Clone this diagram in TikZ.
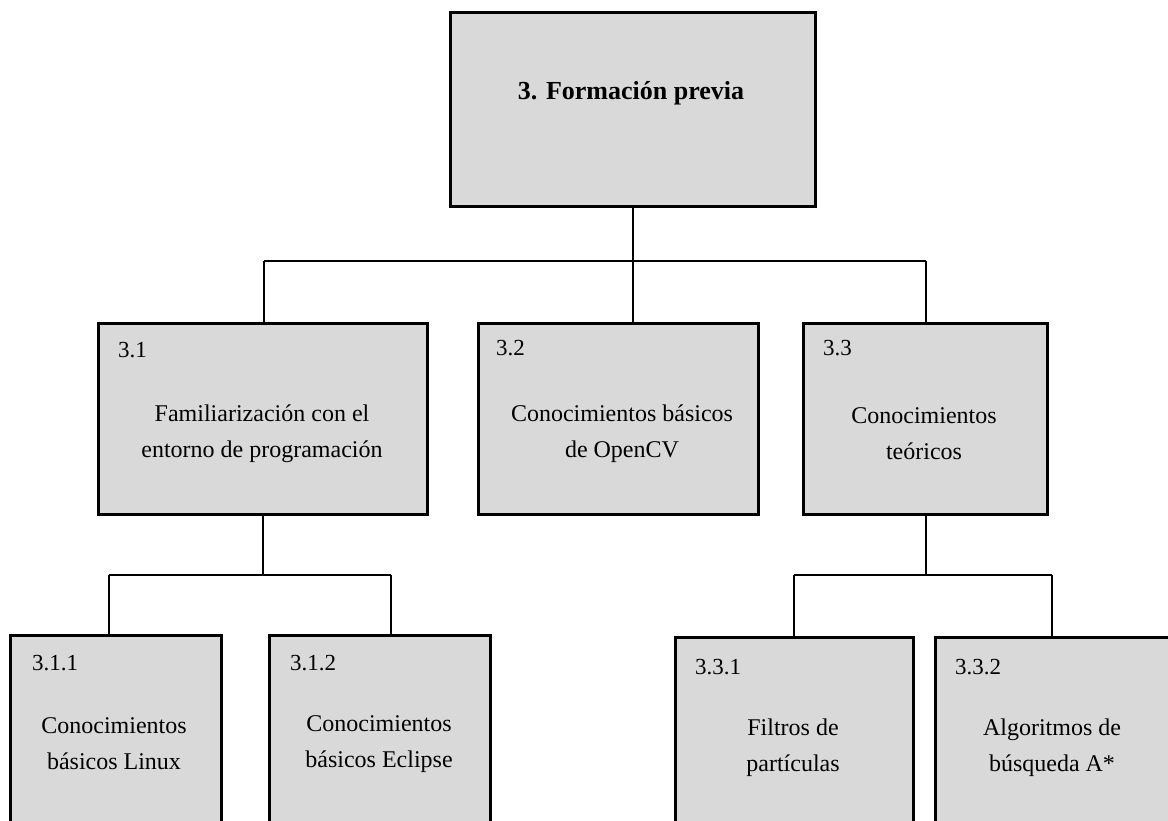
\documentclass[tikz,border=0pt]{standalone}
\usepackage{fontspec}
\setmainfont{Liberation Serif}
\definecolor{boxgray}{HTML}{D9D9D9}
\begin{document}
\begin{tikzpicture}[x=1pt,y=-1pt,
  wbsbox/.style={draw=black,line width=2.6pt,fill=boxgray,inner sep=0pt,anchor=north west},
  conn/.style={draw=black,line width=1.8pt},
  numtxt/.style={font=\fontsize{23}{26}\selectfont,anchor=west,inner sep=0pt},
  bodytxt/.style={font=\fontsize{24}{36}\selectfont,align=center,inner sep=0pt}]
\clip (0,0) rectangle (1168,821);
\fill[white] (0,0) rectangle (1168,821);

% work breakdown boxes
\node[wbsbox,minimum width=365,minimum height=194] (root) at (449,11) {};
\node[wbsbox,minimum width=329,minimum height=191] (b31) at (97,322) {};
\node[wbsbox,minimum width=280,minimum height=191] (b32) at (477,322) {};
\node[wbsbox,minimum width=244,minimum height=191] (b33) at (802,322) {};
\node[wbsbox,minimum width=211,minimum height=220] (b311) at (9,634) {};
\node[wbsbox,minimum width=221,minimum height=220] (b312) at (268,634) {};
\node[wbsbox,minimum width=238,minimum height=220] (b331) at (674,636) {};
\node[wbsbox,minimum width=300,minimum height=220] (b332) at (934,636) {};

% bus junctions
\coordinate (busL) at (264,261);
\coordinate (busR) at (926,261);
\coordinate (subL) at (109,575);
\coordinate (subR) at (391,575);
\coordinate (thrL) at (794,575);
\coordinate (thrR) at (1052,575);
\coordinate (thrM) at (926,575);

% connectors
\draw[conn] (root.south) -- (root.south |- b32.north);
\draw[conn] (busL) -- (busR);
\draw[conn] (busL) -- (busL |- b31.north);
\draw[conn] (busR) -- (busR |- b33.north);

\draw[conn] (b31.south) -- (b31.south |- subL);
\draw[conn] (subL) -- (subR);
\draw[conn] (subL) -- (subL |- b311.north);
\draw[conn] (subR) -- (subR |- b312.north);

\draw[conn] (thrM |- b33.south) -- (thrM);
\draw[conn] (thrL) -- (thrR);
\draw[conn] (thrL) -- (thrL |- b331.north);
\draw[conn] (thrR) -- (thrR |- b332.north);

% texts
\node[font=\bfseries\fontsize{26}{30}\selectfont] (t0) at (631,93) {3. Formación previa};

\node[numtxt] (n31) at (118,350) {3.1};
\node[numtxt] (n32) at (496,348) {3.2};
\node[numtxt] (n33) at (823,348) {3.3};
\node[numtxt] (n311) at (32,663) {3.1.1};
\node[numtxt] (n312) at (290,663) {3.1.2};
\node[numtxt] (n331) at (695,667) {3.3.1};
\node[numtxt] (n332) at (955,667) {3.3.2};

\node[bodytxt] (d31) at (262,434) {Familiarización con el\\entorno de programación};
\node[bodytxt] (d32) at (622,434) {Conocimientos básicos\\de OpenCV};
\node[bodytxt] (d33) at (924,434) {Conocimientos\\teóricos};
\node[bodytxt] (d311) at (114,744) {Conocimientos\\básicos Linux};
\node[bodytxt] (d312) at (379,744) {Conocimientos\\básicos Eclipse};
\node[bodytxt] (d331) at (793,748) {Filtros de\\partículas};
\node[bodytxt] (d332) at (1052,748) {Algoritmos de\\búsqueda A*};
\end{tikzpicture}
\end{document}
